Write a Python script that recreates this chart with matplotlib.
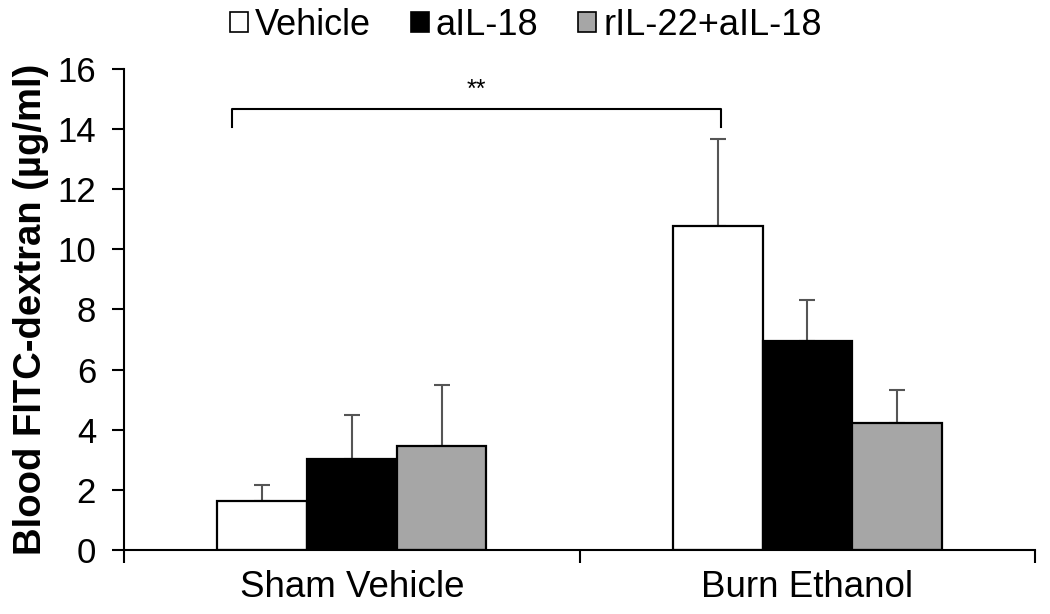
import matplotlib
matplotlib.use("Agg")
import matplotlib.pyplot as plt
import numpy as np
from matplotlib.patches import Patch

plt.rcParams['font.family'] = ['Liberation Sans', 'DejaVu Sans']

categories = ["Sham Vehicle", "Burn Ethanol"]
series_names = ["Vehicle", "aIL-18", "rIL-22+aIL-18"]
vehicle = [1.62, 10.78]
ail18 = [3.03, 6.96]
ril22_ail18 = [3.47, 4.24]
vehicle_err = [0.54, 2.87]
ail18_err = [1.46, 1.36]
ril22_ail18_err = [2.02, 1.09]
yticks = [0, 2, 4, 6, 8, 10, 12, 14, 16]

values = [vehicle, ail18, ril22_ail18]
errors = [vehicle_err, ail18_err, ril22_ail18_err]
colors = ["white", "black", "#a6a6a6"]
err_colors = ["#555555", "#555555", "#555555"]

fig = plt.figure(figsize=(10.5, 6.14), dpi=100)
ax = fig.add_axes([0.118, 0.104, 0.868, 0.784])

x = np.arange(len(categories))
w = 0.197
for i, (vals, errs, c) in enumerate(zip(values, errors, colors)):
    pos = x + (i - 1) * w
    ax.bar(pos, vals, width=w, color=c, edgecolor="black", linewidth=1.6, zorder=2)
    ax.errorbar(pos, vals, yerr=[np.zeros(len(errs)), errs], fmt="none",
                ecolor=err_colors[i], elinewidth=1.5, capsize=6, capthick=1.5, zorder=1)

ax.set_xlim(-0.5, 1.5)
ax.set_ylim(0, 16)
ax.set_yticks(yticks)
ax.set_yticklabels([str(t) for t in yticks], fontsize=25)
ax.set_xticks(x)
ax.set_xticklabels(categories, fontsize=26.5)
ax.tick_params(axis="x", which="major", length=0, pad=14)
ax.set_xticks([-0.5, 0.5, 1.5], minor=True)
ax.tick_params(axis="x", which="minor", length=9, width=1.5, direction="out")
ax.tick_params(axis="y", length=9, width=1.5, direction="out", pad=11)
for s in ["top", "right"]:
    ax.spines[s].set_visible(False)
for s in ["left", "bottom"]:
    ax.spines[s].set_linewidth(1.5)

ax.set_ylabel("Blood FITC-dextran (µg/ml)", fontsize=27.5, fontweight="bold", labelpad=6)

# significance bracket
xl, xr = -0.263, 0.811
yb, yt = 14.05, 14.65
ax.plot([xl, xl, xr, xr], [yb, yt, yt, yb], color="black", lw=1.5, clip_on=False)
ax.text((xl + xr) / 2, yt + 0.25, "**", ha="center", va="bottom", fontsize=18)

handles = [Patch(facecolor=c, edgecolor="black", linewidth=1.2) for c in colors]
ax.legend(handles, series_names, loc="center", bbox_to_anchor=(0.441, 1.09), ncol=3,
          frameon=False, fontsize=26, handlelength=0.5, handleheight=0.5,
          handletextpad=0.2, columnspacing=1.1, borderaxespad=0)

fig.savefig("out.png", dpi=100)
